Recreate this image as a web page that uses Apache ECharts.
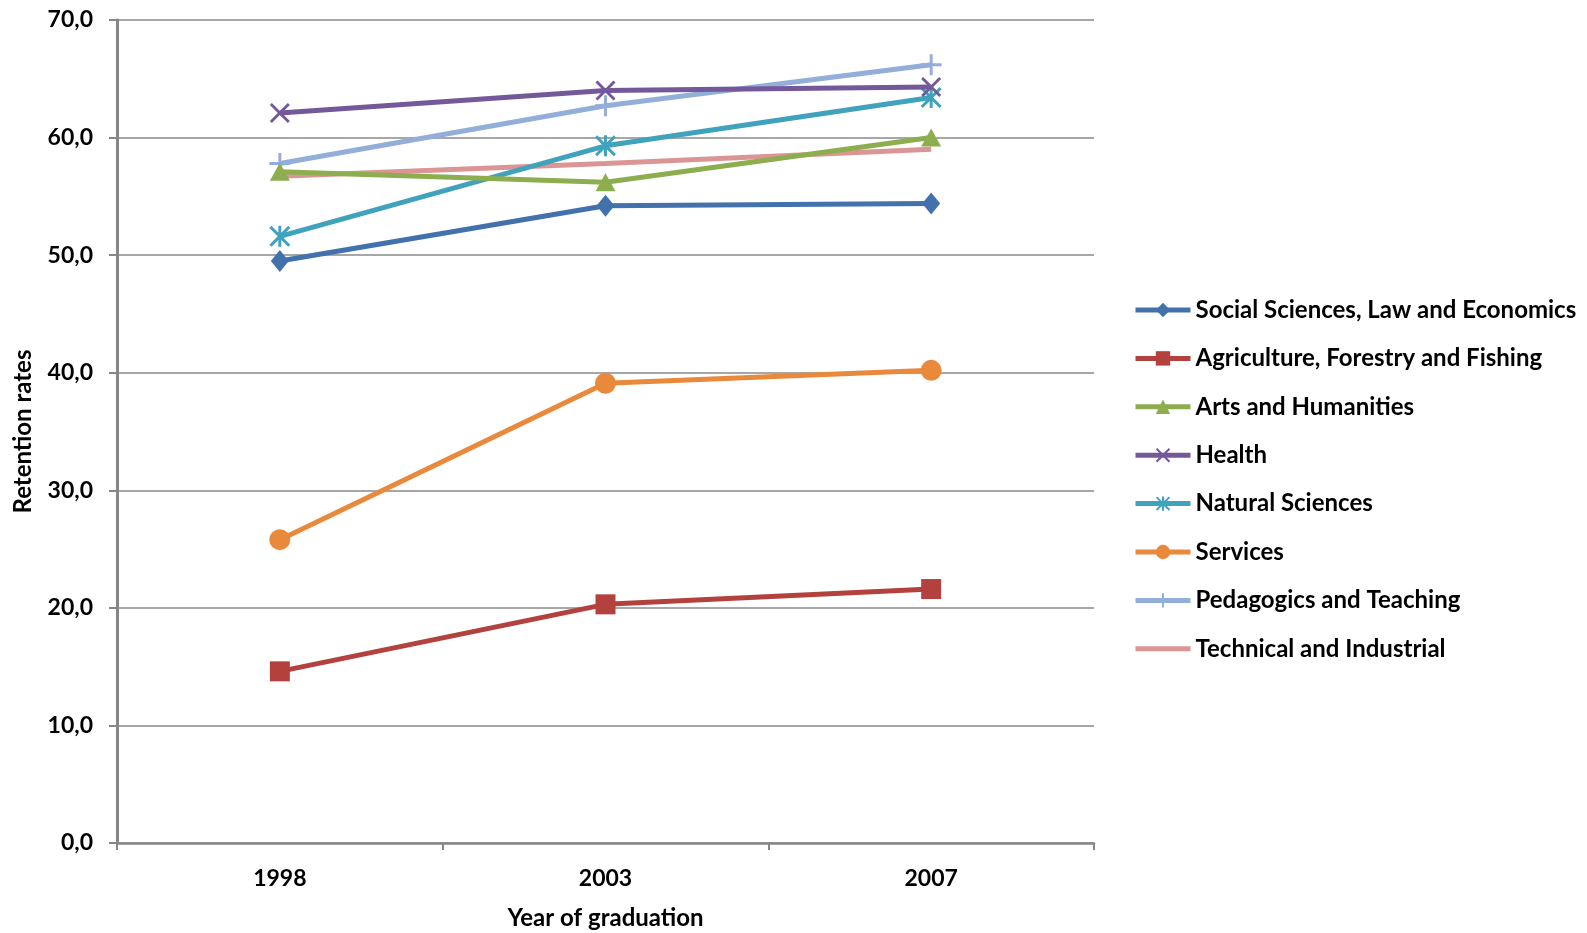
<!DOCTYPE html>
<html>
<head>
<meta charset="utf-8">
<script src="https://cdn.jsdelivr.net/npm/echarts@6/dist/echarts.min.js"></script>
<style>
  html, body { margin: 0; padding: 0; background: #ffffff; }
  #chart { width: 1587px; height: 933px; }
</style>
</head>
<body>
<div id="chart"></div>
<script>
// Retention rates by field of study and year of graduation
const years = ['1998', '2003', '2007'];

const seriesNames = [
  'Social Sciences, Law and Economics',
  'Agriculture, Forestry and Fishing',
  'Arts and Humanities',
  'Health',
  'Natural Sciences',
  'Services',
  'Pedagogics and Teaching',
  'Technical and Industrial'
];

const socialSciences = [49.5, 54.2, 54.4];
const agriculture    = [14.6, 20.3, 21.6];
const artsHumanities = [57.1, 56.2, 60.0];
const health         = [62.1, 64.0, 64.3];
const naturalSci     = [51.6, 59.3, 63.4];
const services       = [25.8, 39.1, 40.2];
const pedagogics     = [57.8, 62.7, 66.2];
const technical      = [56.7, 57.8, 59.0];

const yTicks = [0, 10, 20, 30, 40, 50, 60, 70];

const seriesValues = [socialSciences, agriculture, artsHumanities, health,
                      naturalSci, services, pedagogics, technical];

const colors = ['#4271AC', '#B3423F', '#8DAE4F', '#73589A',
                '#40A2BC', '#E8893C', '#93AED9', '#DA9594'];

// marker shapes (filled outlines for the cross-type markers)
const xMark = 'path://M0,2 L2,0 L10,8 L18,0 L20,2 L12,10 L20,18 L18,20 L10,12 L2,20 L0,18 L8,10 Z';
const plusMark = 'path://M8.6,0 H11.4 V8.6 H20 V11.4 H11.4 V20 H8.6 V11.4 H0 V8.6 H8.6 Z';
const starMark = 'path://M0,2 L2,0 L10,8 L18,0 L20,2 L12,10 L20,18 L18,20 L10,12 L2,20 L0,18 L8,10 Z M8.6,0 H11.4 V20 H8.6 Z';

const symbols = ['diamond', 'rect', 'triangle', xMark, starMark, 'circle', plusMark, 'none'];
const sizes = [[18, 22], 20, [20, 18], 20, 21, 21, 21, 0];

const font = 'Lato, "Open Sans", "DejaVu Sans", sans-serif';

const chart = echarts.init(document.getElementById('chart'), null, { renderer: 'canvas' });

const legendData = seriesNames.map((name, i) =>
  symbols[i] === 'none' ? { name: name, itemStyle: { opacity: 0 } } : { name: name });

chart.setOption({
  backgroundColor: '#ffffff',
  animation: false,
  grid: { left: 117, right: 493, top: 20, bottom: 90, containLabel: false, outerBoundsMode: 'none' },
  legend: {
    orient: 'vertical',
    left: 1133,
    top: 298,
    padding: 0,
    itemWidth: 55,
    itemHeight: 18,
    itemGap: 24.4,
    data: legendData,
    lineStyle: { width: 5 },
    textStyle: { fontFamily: font, fontWeight: 'bold', fontSize: 24, lineHeight: 24, color: '#000000' }
  },
  xAxis: {
    type: 'category',
    data: years,
    boundaryGap: true,
    name: 'Year of graduation',
    nameLocation: 'middle',
    nameGap: 63,
    nameTextStyle: { fontFamily: font, fontWeight: 'bold', fontSize: 24, color: '#000000' },
    axisLine: { lineStyle: { color: '#868686', width: 2.5 } },
    axisTick: { show: true, length: 7, inside: false, lineStyle: { color: '#868686', width: 2 } },
    axisLabel: { fontFamily: font, fontWeight: 'bold', fontSize: 23, color: '#000000', margin: 24 },
    splitLine: { show: false }
  },
  yAxis: {
    type: 'value',
    min: yTicks[0],
    max: yTicks[yTicks.length - 1],
    interval: 10,
    name: 'Retention rates',
    nameLocation: 'middle',
    nameGap: 82,
    nameRotate: 90,
    nameTextStyle: { fontFamily: font, fontWeight: 'bold', fontSize: 24, color: '#000000' },
    axisLine: { show: true, lineStyle: { color: '#868686', width: 3 } },
    axisTick: { show: true, length: 8, lineStyle: { color: '#868686', width: 2 } },
    axisLabel: {
      fontFamily: font, fontWeight: 'bold', fontSize: 23, color: '#000000', margin: 24,
      formatter: v => v.toFixed(1).replace('.', ',')
    },
    splitLine: { show: true, lineStyle: { color: '#8a8a8a', width: 1.5 } }
  },
  series: seriesNames.map((name, i) => ({
    name: name,
    type: 'line',
    data: seriesValues[i],
    color: colors[i],
    symbol: symbols[i],
    symbolSize: sizes[i],
    showSymbol: symbols[i] !== 'none',
    lineStyle: { width: 5, color: colors[i] },
    itemStyle: { color: colors[i] },
    z: 10 - i
  }))
});
</script>
</body>
</html>
